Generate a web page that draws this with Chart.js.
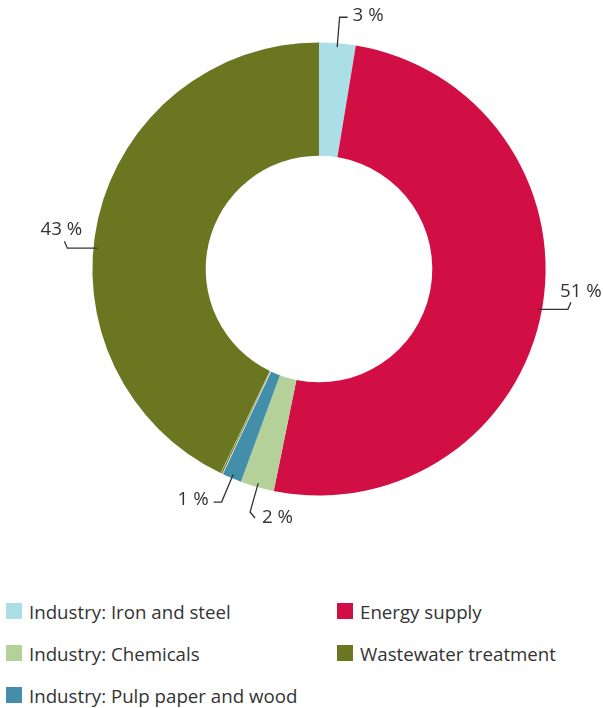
<!DOCTYPE html>
<html>
<head>
<meta charset="utf-8">
<script src="https://cdn.jsdelivr.net/npm/chart.js@4"></script>
<style>
    html, body { margin: 0; padding: 0; background: #fff; }
    body { width: 603px; height: 708px; position: relative; font-family: "Open Sans", sans-serif; overflow: hidden; }
    #wrap { position: absolute; left: 0; top: 0; width: 603px; height: 540px; }
    #leyenda { position: absolute; left: 0; top: 589px; width: 603px; }
    .item { position: absolute; display: flex; align-items: center; font-size: 18.7px; color: #333; white-space: nowrap; height: 44px; }
    .item span.caja { width: 16px; height: 16px; margin-right: 7px; display: inline-block; }
</style>
</head>
<body>
<div id="wrap"><canvas id="grafico"></canvas></div>
<div id="leyenda"></div>
<script>
const categorias = [
    "Industry: Iron and steel",
    "Energy supply",
    "Industry: Chemicals",
    "Industry: Pulp paper and wood",
    "Other",
    "Wastewater treatment",
];
const valores = [2.6, 50.6, 2.4, 1.4, 0.15, 42.85];
const colores = ["#abdfe8", "#d20f44", "#b4d19a", "#438ea9", "#6b7720", "#6b7720"];
const enLeyenda = [true, true, true, true, false, true];
// orden de la leyenda (dos columnas, por filas)
const ordenLeyenda = [0, 1, 2, 5, 3];

const total = valores.reduce((a, b) => a + b, 0);

// forma del conector de cada etiqueta: "lateral" = horizontal primero, "radial" = diagonal primero
const formaConector = ["radial", "lateral", "radial", "radial", null, "lateral"];
const desfaseAngulo = [0, 0, 0, 0, 0, -7.5];

const etiquetas = {
    id: "etiquetas",
    afterDraw(chart) {
        const ctx = chart.ctx;
        const arcos = chart.getDatasetMeta(0).data;
        ctx.save();
        ctx.font = "18.7px 'Open Sans', sans-serif";
        ctx.fillStyle = "#333";
        ctx.strokeStyle = "#333";
        ctx.lineWidth = 1.3;
        ctx.textBaseline = "middle";
        arcos.forEach((arc, i) => {
            if (!formaConector[i]) return;
            const { x, y, startAngle, endAngle, outerRadius } = arc.getProps(["x", "y", "startAngle", "endAngle", "outerRadius"], true);
            const mid = (startAngle + endAngle) / 2 + desfaseAngulo[i] * Math.PI / 180;
            const c = Math.cos(mid), s = Math.sin(mid);
            let lado = c >= 0 ? 1 : -1;
            if (i === 2) lado = 1;
            const texto = Math.round(valores[i] / total * 100) + " %";
            const ax = x + c * (outerRadius - 4), ay = y + s * (outerRadius - 4);
            ctx.beginPath();
            ctx.moveTo(ax, ay);
            if (formaConector[i] === "lateral") {
                const bx = ax + lado * 30;
                const cx = bx + lado * 3, cy = ay - 7;
                ctx.lineTo(bx, ay);
                ctx.lineTo(cx, cy);
                ctx.stroke();
                ctx.textAlign = "center";
                ctx.fillText(texto, cx + (lado > 0 ? 10 : -3), cy - 11);
            } else {
                const kx = x + c * (outerRadius + 26), ky = y + s * (outerRadius + 26);
                ctx.lineTo(kx, ky);
                if (i === 2) {
                    ctx.lineTo(kx + 5, ky + 6);
                    ctx.stroke();
                    ctx.textAlign = "left";
                    ctx.fillText(texto, kx + 12, ky + 6);
                } else {
                    const tx = kx + lado * 8;
                    ctx.lineTo(tx, ky);
                    ctx.stroke();
                    ctx.textAlign = lado > 0 ? "left" : "right";
                    ctx.fillText(texto, tx + lado * 5, ky - 2);
                }
            }
        });
        ctx.restore();
    },
};

new Chart(document.getElementById("grafico"), {
    type: "doughnut",
    data: {
        labels: categorias,
        datasets: [{
            data: valores,
            backgroundColor: colores,
            borderColor: "#fff",
            borderWidth: [0, 0, 0, 0, 0.8, 0],
            hoverOffset: 0,
        }],
    },
    options: {
        responsive: true,
        maintainAspectRatio: false,
        animation: false,
        cutout: "50%",
        layout: { padding: { top: 42, bottom: 44, left: 92, right: 57 } },
        plugins: { legend: { display: false }, tooltip: { enabled: false } },
    },
    plugins: [etiquetas],
});

const leyenda = document.getElementById("leyenda");
ordenLeyenda.forEach((idx, n) => {
    const col = n % 2, fila = Math.floor(n / 2);
    const div = document.createElement("div");
    div.className = "item";
    div.style.left = (col ? 337 : 6) + "px";
    div.style.top = (fila * 42) + "px";
    div.innerHTML = `<span class="caja" style="background:${colores[idx]}"></span>${categorias[idx]}`;
    leyenda.appendChild(div);
});
</script>
</body>
</html>
